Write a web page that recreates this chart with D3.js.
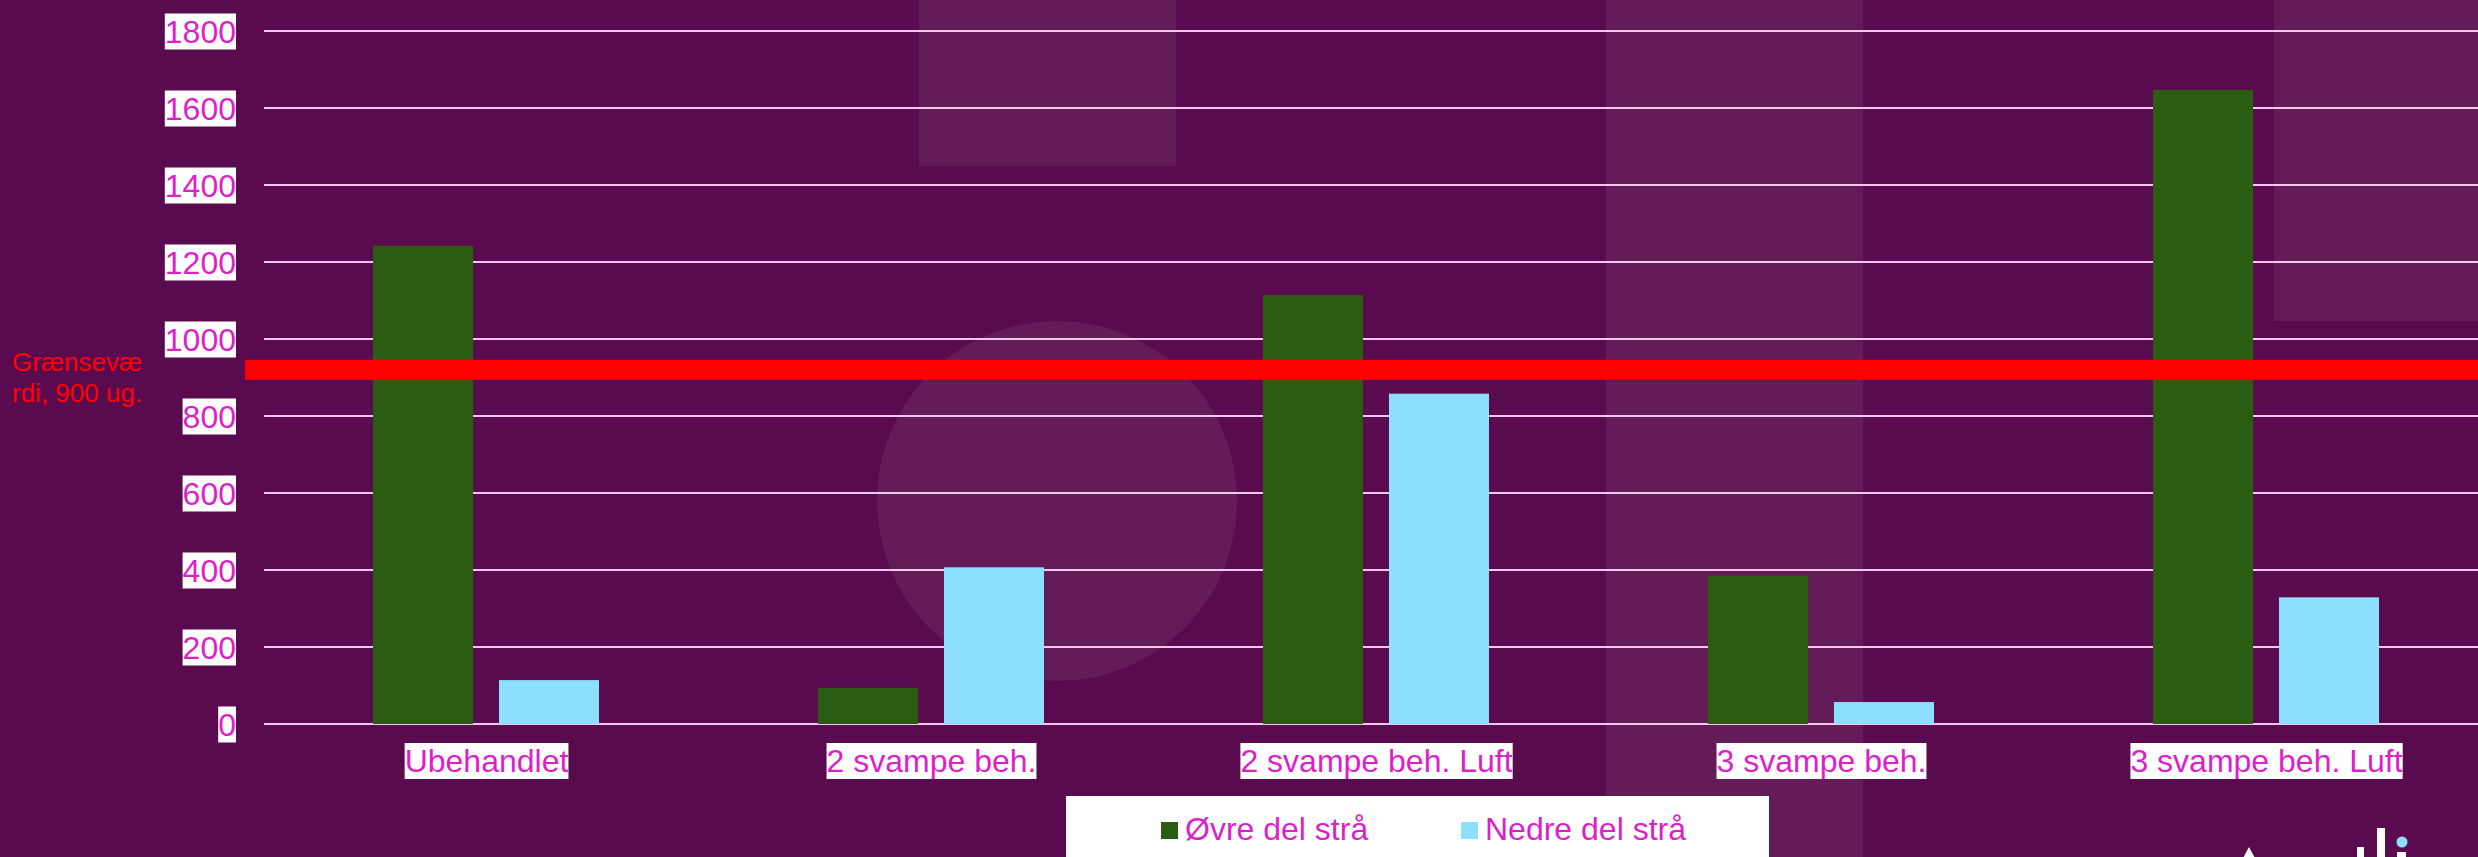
<!DOCTYPE html>
<html>
<head>
<meta charset="utf-8">
<script src="https://cdn.jsdelivr.net/npm/d3@7"></script>
<style>
  html, body { margin: 0; padding: 0; background: #5a0a4e; overflow: hidden; }
  svg { display: block; }
  text { font-family: "Liberation Sans", Arial, sans-serif; }
</style>
</head>
<body>
<svg id="chart" width="2478" height="857"></svg>
<script>
// ---- Data ----
const categories = ["Ubehandlet", "2 svampe beh.", "2 svampe beh. Luft", "3 svampe beh.", "3 svampe beh. Luft"];
const seriesNames = ["Øvre del strå", "Nedre del strå"];
const upperValues = [1242, 94, 1114, 385, 1647];
const lowerValues = [114, 407, 858, 57, 329];
const yTicks = [0, 200, 400, 600, 800, 1000, 1200, 1400, 1600, 1800];
const thresholdValue = 920;
const thresholdLabel = ["Grænsevæ", "rdi, 900 ug."];
const seriesColors = ["#2a5c12", "#8ddfff"];

// ---- Setup ----
const W = 2478, H = 857;
const svg = d3.select("#chart");
const bg = "#5a0a4e", light = "#641c59", magenta = "#dd1fc8", grid = "#f2c6ee";

svg.append("rect").attr("width", W).attr("height", H).attr("fill", bg);

// decorative background shapes
const deco = svg.append("g");
deco.append("rect").attr("x", 919).attr("y", 0).attr("width", 257).attr("height", 166).attr("fill", light);
deco.append("rect").attr("x", 1606).attr("y", 0).attr("width", 257).attr("height", H).attr("fill", light);
deco.append("rect").attr("x", 2274).attr("y", 0).attr("width", W - 2274).attr("height", 321).attr("fill", light);
deco.append("circle").attr("cx", 1057).attr("cy", 501).attr("r", 180).attr("fill", light);

// scales
const y = d3.scaleLinear().domain([0, 1800]).range([724, 31]);
const x0 = d3.scaleBand().domain(categories).range([264, 264 + 445 * categories.length]).padding(0);
const x1 = d3.scaleBand().domain(seriesNames).range([109, 335]).paddingInner(26 / 126).paddingOuter(0);

// gridlines
svg.append("g").selectAll("line").data(yTicks).join("line")
  .attr("x1", 264).attr("x2", W)
  .attr("y1", d => y(d)).attr("y2", d => y(d))
  .attr("stroke", grid).attr("stroke-width", 2);

// y axis labels with white boxes
const yAxis = d3.axisLeft(y).tickValues(yTicks).tickSize(0).tickPadding(0).tickFormat(d3.format("d"));
const gy = svg.append("g").attr("transform", "translate(236,0)").call(yAxis);
gy.select(".domain").remove();
gy.selectAll(".tick text")
  .attr("font-size", 32).attr("fill", magenta)
  .attr("font-family", "'Liberation Sans', Arial, sans-serif")
  .attr("x", 0).attr("dy", "0.36em");
gy.selectAll(".tick").each(function() {
  const t = d3.select(this).select("text");
  const bb = t.node().getBBox();
  d3.select(this).insert("rect", "text")
    .attr("x", bb.x).attr("y", -18).attr("width", bb.width).attr("height", 36)
    .attr("fill", "#ffffff");
});

// bars
const rows = categories.map((c, i) => ({ cat: c, vals: [upperValues[i], lowerValues[i]] }));
const groups = svg.append("g").selectAll("g").data(rows).join("g")
  .attr("transform", d => `translate(${x0(d.cat)},0)`);
groups.selectAll("rect").data(d => d.vals.map((v, j) => ({ s: seriesNames[j], v, j }))).join("rect")
  .attr("x", d => x1(d.s)).attr("width", x1.bandwidth())
  .attr("y", d => y(d.v)).attr("height", d => y(0) - y(d.v))
  .attr("fill", d => seriesColors[d.j]);

// x axis labels with white boxes
const xAxis = d3.axisBottom(x0).tickSize(0).tickPadding(0);
const gx = svg.append("g").attr("transform", "translate(0,772)").call(xAxis);
gx.select(".domain").remove();
gx.selectAll(".tick text")
  .attr("font-size", 32).attr("fill", magenta)
  .attr("font-family", "'Liberation Sans', Arial, sans-serif")
  .attr("y", 0).attr("dy", 0);
gx.selectAll(".tick").each(function() {
  const t = d3.select(this).select("text");
  const bb = t.node().getBBox();
  d3.select(this).insert("rect", "text")
    .attr("x", bb.x).attr("y", -29).attr("width", bb.width).attr("height", 36)
    .attr("fill", "#ffffff");
});

// threshold line
svg.append("line")
  .attr("x1", 245).attr("x2", W)
  .attr("y1", y(thresholdValue)).attr("y2", y(thresholdValue))
  .attr("stroke", "#ff0000").attr("stroke-width", 20);

svg.append("g").selectAll("text").data(thresholdLabel).join("text")
  .attr("x", 12).attr("y", (d, i) => 371 + i * 31)
  .attr("font-size", 26).attr("fill", "#ff0000").text(d => d);

// legend
const lg = svg.append("g");
lg.append("rect").attr("x", 1066).attr("y", 796).attr("width", 703).attr("height", 70).attr("fill", "#ffffff");
const legendX = [1161, 1461];
seriesNames.forEach((s, i) => {
  lg.append("rect").attr("x", legendX[i]).attr("y", 822).attr("width", 17).attr("height", 17).attr("fill", seriesColors[i]);
  lg.append("text").attr("x", legendX[i] + 24).attr("y", 840)
    .attr("font-size", 32).attr("fill", magenta).text(s);
});

// partial logo at bottom right
const logo = svg.append("g");
logo.append("polygon").attr("points", "2249,847 2242,860 2256,860").attr("fill", "#ffffff");
logo.append("rect").attr("x", 2357).attr("y", 847).attr("width", 7).attr("height", 12).attr("fill", "#ffffff");
logo.append("rect").attr("x", 2377).attr("y", 828).attr("width", 8).attr("height", 31).attr("fill", "#ffffff");
logo.append("rect").attr("x", 2397).attr("y", 852).attr("width", 9).attr("height", 7).attr("fill", "#ffffff");
logo.append("circle").attr("cx", 2402).attr("cy", 842).attr("r", 5.5).attr("fill", "#8ddfff");
</script>
</body>
</html>
